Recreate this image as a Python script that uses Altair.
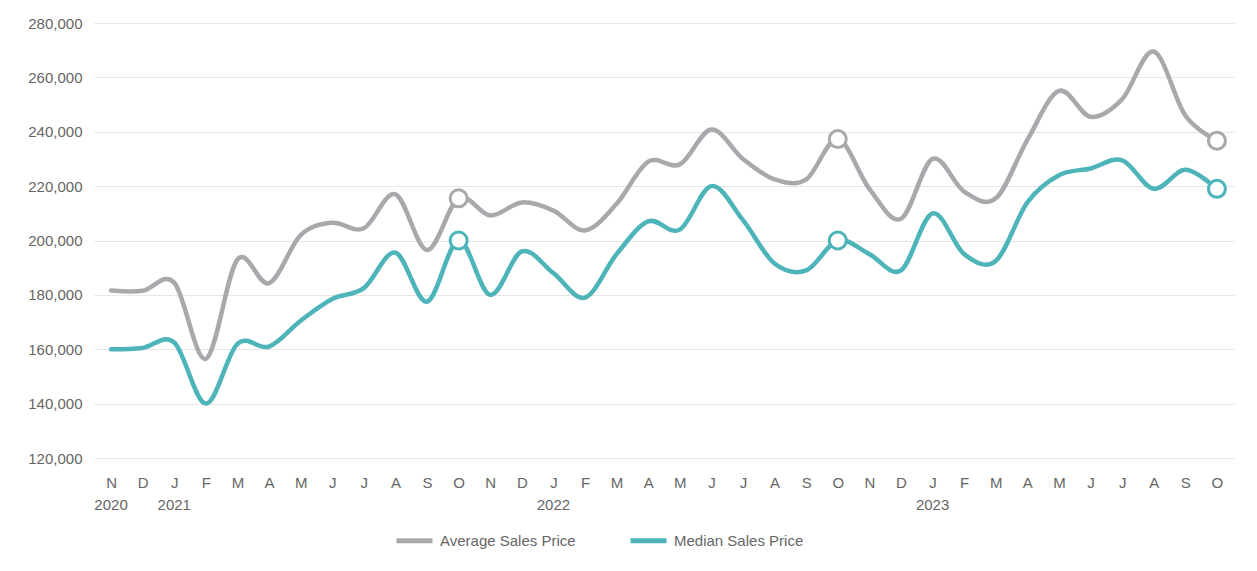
import altair as alt
import pandas as pd

# ---- data ----
month_letters = ['N', 'D', 'J', 'F', 'M', 'A', 'M', 'J', 'J', 'A', 'S', 'O',
                 'N', 'D', 'J', 'F', 'M', 'A', 'M', 'J', 'J', 'A', 'S', 'O',
                 'N', 'D', 'J', 'F', 'M', 'A', 'M', 'J', 'J', 'A', 'S', 'O']
year_labels = ['2020', '2021', '2022', '2023']
year_positions = [0, 2, 14, 26]

average_price = [181600, 181500, 184500, 156500, 193000, 184300, 202000, 206500, 204500, 217000, 196500, 215500,
                 209200, 214000, 211000, 203700, 213500, 229000, 228000, 240800, 230000, 222500, 222500, 237300,
                 219000, 208000, 230000, 218000, 215500, 237000, 255000, 245500, 252000, 269500, 246000, 236700]
median_price = [160000, 160500, 162500, 140000, 162000, 161000, 170500, 178500, 182500, 195500, 177500, 200000,
                180000, 196000, 188000, 179000, 195000, 207000, 204000, 220000, 207500, 191500, 189000, 200000,
                195000, 189000, 210000, 195000, 192500, 214000, 224000, 226500, 229500, 219000, 226000, 219000]
marker_positions = [11, 23, 35]

series_names = ['Average Sales Price', 'Median Sales Price']
series_colors = ['#a9a9ad', '#4db4ba']
y_ticks = [120000, 140000, 160000, 180000, 200000, 220000, 240000, 260000, 280000]

# ---- tables ----
rows = []
for name, vals in zip(series_names, [average_price, median_price]):
    for i, v in enumerate(vals):
        rows.append({'idx': i, 'series': name, 'value': v, 'marker': i in marker_positions})
df = pd.DataFrame(rows)
years_df = pd.DataFrame({'idx': year_positions, 'label': year_labels})

W, H = 1140, 435
label_font = 'Liberation Sans'
text_color = '#666666'
FS = 15

xscale = alt.Scale(domain=[-0.54, 35.54], nice=False, zero=False)
yscale = alt.Scale(domain=[120000, 280000], nice=False, zero=False)
color_scale = alt.Scale(domain=series_names, range=series_colors)

month_expr = "[" + ",".join("'%s'" % m for m in month_letters) + "][datum.value]"

x_axis = alt.Axis(values=list(range(len(month_letters))), labelExpr=month_expr, title=None,
                  grid=False, domain=False, ticks=False, tickSize=0, labelPadding=17,
                  labelFontSize=FS, labelColor=text_color, labelFont=label_font, labelFlush=False,
                  labelOverlap=False)
y_axis = alt.Axis(values=y_ticks, format=',.0f', title=None, grid=True, gridColor='#e6e6e6',
                  gridWidth=1, domain=False, ticks=False, tickSize=0, labelPadding=12,
                  labelFontSize=FS, labelColor=text_color, labelFont=label_font)

X = alt.X('idx:Q', scale=xscale, axis=x_axis)
Y = alt.Y('value:Q', scale=yscale, axis=y_axis)

base = alt.Chart(df)

lines = base.mark_line(interpolate='cardinal', strokeWidth=4.5, strokeCap='round').encode(
    x=X,
    y=Y,
    color=alt.Color('series:N', scale=color_scale, sort=series_names,
                    legend=alt.Legend(title=None, orient='none', legendX=300, legendY=497,
                                      direction='horizontal', symbolType='stroke',
                                      symbolSize=1296, symbolStrokeWidth=5,
                                      labelFontSize=FS, labelColor=text_color, labelFont=label_font,
                                      labelOffset=5, columnPadding=44)),
)

points = base.transform_filter('datum.marker').mark_point(
    shape='circle', filled=False, fill='white', fillOpacity=1, opacity=1, size=290, strokeWidth=3
).encode(
    x=X,
    y=Y,
    color=alt.Color('series:N', scale=color_scale, legend=None),
)

years = alt.Chart(years_df).mark_text(fontSize=FS, color=text_color, font=label_font,
                                      baseline='middle', align='center').encode(
    x=X,
    y=alt.value(H + 47),
    text='label:N',
)

chart = alt.layer(lines, points, years).properties(
    width=W, height=H,
    padding={'left': 19, 'top': 8, 'right': 5, 'bottom': 5},
).configure(font=label_font).configure_view(strokeWidth=0, stroke=None)

chart.save('out.html', embed_options={'renderer': 'svg', 'actions': False})
